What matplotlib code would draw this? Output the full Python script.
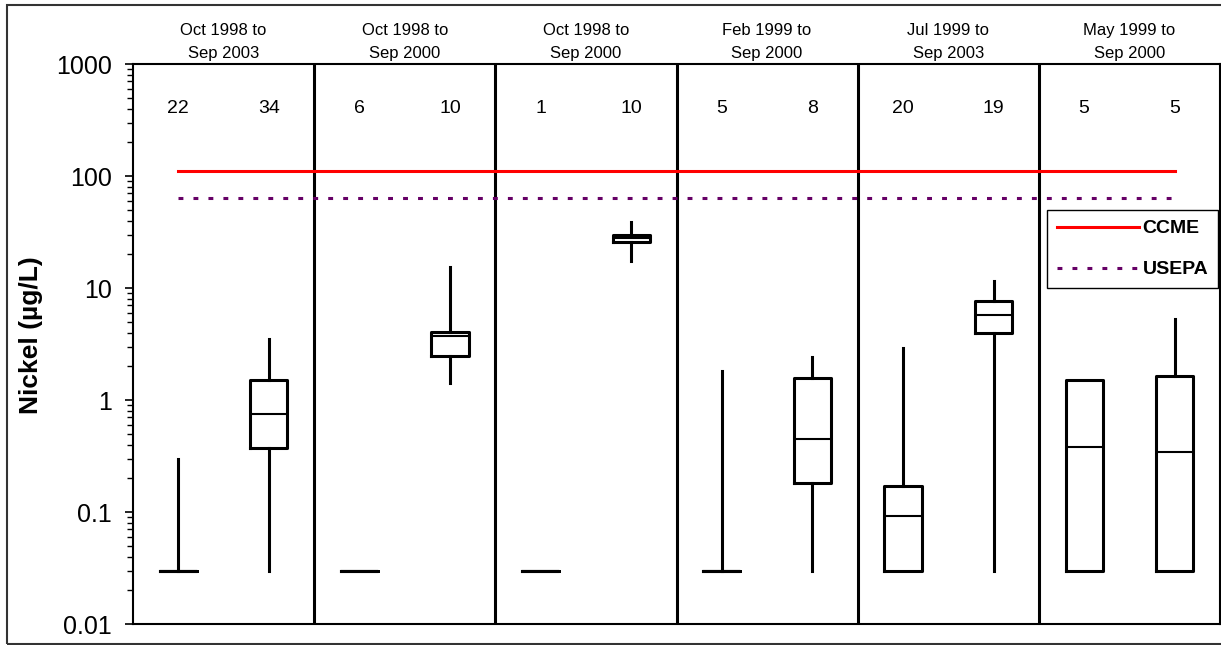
import numpy as np
import matplotlib
matplotlib.use("Agg")
import matplotlib.pyplot as plt
from matplotlib.patches import Rectangle
from matplotlib.ticker import FixedLocator, FixedFormatter, LogLocator, NullFormatter

plt.rcParams['font.family'] = ['Liberation Sans', 'DejaVu Sans']

# Period label for each site group (two boxes per group)
periods = ["Oct 1998 to\nSep 2003", "Oct 1998 to\nSep 2000", "Oct 1998 to\nSep 2000",
           "Feb 1999 to\nSep 2000", "Jul 1999 to\nSep 2003", "May 1999 to\nSep 2000"]
counts = [22, 34, 6, 10, 1, 10, 5, 8, 20, 19, 5, 5]

# box statistics (ug/L)
whis_lo = [0.03, 0.03, 0.03, 1.42, 0.03, 17.4, 0.03, 0.03, 0.03, 0.03, 0.03, 0.03]
q1      = [0.03, 0.37, 0.03, 2.47, 0.03, 25.8, 0.03, 0.18, 0.03, 3.96, 0.03, 0.03]
med     = [0.03, 0.75, 0.03, 3.70, 0.03, 28.0, 0.03, 0.45, 0.092, 5.74, 0.38, 0.34]
q3      = [0.03, 1.50, 0.03, 4.05, 0.03, 29.7, 0.03, 1.57, 0.17, 7.65, 1.51, 1.64]
whis_hi = [0.30, 3.50, 0.03, 15.4, 0.03, 38.8, 1.80, 2.42, 2.90, 11.5, 1.51, 5.30]

ccme = 110
usepa = 63

fig = plt.figure(figsize=(12.21, 6.45), dpi=100)
ax = fig.add_axes([133/1221, 1 - 624/645, (1220 - 133)/1221, 560/645])

stats = []
for i in range(len(med)):
    stats.append(dict(whislo=whis_lo[i], q1=q1[i], med=med[i], q3=q3[i], whishi=whis_hi[i]))
pos = np.arange(1, len(med) + 1)
ax.bxp(stats, positions=pos, widths=0.41, showfliers=False, showcaps=False,
       boxprops=dict(color='black', linewidth=2.2),
       whiskerprops=dict(color='black', linewidth=2.2),
       medianprops=dict(color='black', linewidth=1.5))

# guideline lines
ax.plot([pos[0], pos[-1]], [ccme, ccme], color='red', lw=2.2, label='CCME', zorder=3)
ax.plot([pos[0], pos[-1]], [usepa, usepa], color='#660066', lw=2.2,
        dashes=(1.6, 3.3), label='USEPA', zorder=3)

# group separators
for k in range(1, len(periods)):
    ax.axvline(2 * k + 0.5, color='black', lw=2.2)

for k, p in enumerate(periods):
    ax.text(2 * k + 1.5, 1.006, p, transform=ax.get_xaxis_transform(),
            ha='center', va='bottom', fontsize=12, linespacing=1.62)

for x, c in zip(pos, counts):
    ax.text(x, 0.92, str(c), transform=ax.get_xaxis_transform(),
            ha='center', va='center', fontsize=14)

ax.set_yscale('log')
ax.set_ylim(0.01, 1000)
ax.set_xlim(0.5, 12.5)
ax.set_xticks([])
major = [0.01, 0.1, 1, 10, 100, 1000]
ax.yaxis.set_major_locator(FixedLocator(major))
ax.yaxis.set_major_formatter(FixedFormatter(["0.01", "0.1", "1", "10", "100", "1000"]))
ax.yaxis.set_minor_locator(LogLocator(base=10, subs=np.arange(2, 10)))
ax.yaxis.set_minor_formatter(NullFormatter())
ax.tick_params(axis='y', which='major', direction='out', length=6, width=1.2,
               labelsize=18, pad=9)
ax.tick_params(axis='y', which='minor', direction='out', length=4, width=1.0)
for s in ax.spines.values():
    s.set_linewidth(1.5)

ax.set_ylabel("Nickel (µg/L)", fontsize=19, fontweight='bold')
ax.yaxis.set_label_coords(-0.083, 0.515)

leg = ax.legend(loc='upper left', bbox_to_anchor=(0.841, 0.739), borderaxespad=0,
                prop=dict(weight='bold', size=14), handlelength=4.2,
                handletextpad=0.2, labelspacing=1.2, fancybox=False, framealpha=1,
                edgecolor='black', borderpad=0.5)
leg.get_frame().set_linewidth(1.0)

# outer border around the chart
fig.patches.append(Rectangle((7/1221, 1/645), 1.0, 639/645, transform=fig.transFigure,
                             fill=False, edgecolor='#333333', lw=1.5))

fig.savefig("out.png", dpi=100)
